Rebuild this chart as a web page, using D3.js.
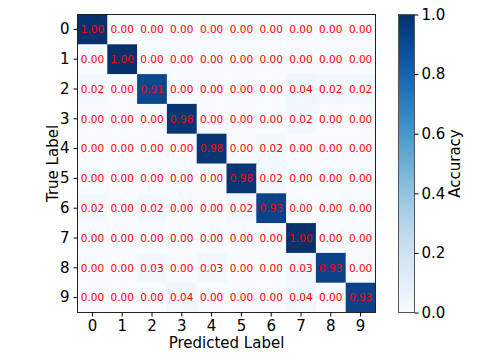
<!DOCTYPE html>
<html>
<head>
<meta charset="utf-8">
<script src="https://cdn.jsdelivr.net/npm/d3@7"></script>
<style>
  body { margin: 0; background: #fff; }
  svg { font-family: "DejaVu Sans", sans-serif; }
</style>
</head>
<body>
<div id="chart"></div>
<script>
// class labels
const labels = ["0", "1", "2", "3", "4", "5", "6", "7", "8", "9"];
// rows = true label, cols = predicted label
const matrix = [
  [1.00, 0.00, 0.00, 0.00, 0.00, 0.00, 0.00, 0.00, 0.00, 0.00],
  [0.00, 1.00, 0.00, 0.00, 0.00, 0.00, 0.00, 0.00, 0.00, 0.00],
  [0.02, 0.00, 0.91, 0.00, 0.00, 0.00, 0.00, 0.04, 0.02, 0.02],
  [0.00, 0.00, 0.00, 0.98, 0.00, 0.00, 0.00, 0.02, 0.00, 0.00],
  [0.00, 0.00, 0.00, 0.00, 0.98, 0.00, 0.02, 0.00, 0.00, 0.00],
  [0.00, 0.00, 0.00, 0.00, 0.00, 0.98, 0.02, 0.00, 0.00, 0.00],
  [0.02, 0.00, 0.02, 0.00, 0.00, 0.02, 0.93, 0.00, 0.00, 0.00],
  [0.00, 0.00, 0.00, 0.00, 0.00, 0.00, 0.00, 1.00, 0.00, 0.00],
  [0.00, 0.00, 0.03, 0.00, 0.03, 0.00, 0.00, 0.03, 0.93, 0.00],
  [0.00, 0.00, 0.00, 0.04, 0.00, 0.00, 0.00, 0.04, 0.00, 0.93]
];
const colorTicks = [0, 0.2, 0.4, 0.6, 0.8, 1.0];

const width = 480, height = 360;
const plot = { left: 77.5, top: 14.5, size: 298 };
const cbar = { left: 398.5, width: 16 };

const svg = d3.select("#chart").append("svg")
  .attr("width", width).attr("height", height);

const x = d3.scaleBand().domain(labels).range([plot.left, plot.left + plot.size]);
const y = d3.scaleBand().domain(labels).range([plot.top, plot.top + plot.size]);
const color = d3.scaleSequential(d3.interpolateBlues).domain([0, 1]);

// flatten into cells
const cells = [];
matrix.forEach((row, i) => row.forEach((v, j) => cells.push({ r: labels[i], c: labels[j], v })));

svg.append("g").selectAll("rect")
  .data(cells).enter().append("rect")
  .attr("x", d => x(d.c))
  .attr("y", d => y(d.r))
  .attr("width", x.bandwidth() + 0.5)
  .attr("height", y.bandwidth() + 0.5)
  .attr("fill", d => color(d.v));

svg.append("g").selectAll("text")
  .data(cells).enter().append("text")
  .attr("x", d => x(d.c) + x.bandwidth() / 2)
  .attr("y", d => y(d.r) + y.bandwidth() / 2)
  .attr("dy", "0.36em")
  .attr("text-anchor", "middle")
  .attr("font-size", 10.5)
  .attr("fill", "#ff0000")
  .text(d => d.v.toFixed(2));

// frame
svg.append("rect")
  .attr("x", plot.left).attr("y", plot.top)
  .attr("width", plot.size).attr("height", plot.size)
  .attr("fill", "none").attr("stroke", "#222").attr("stroke-width", 1);

// axes
const xAxisG = svg.append("g")
  .attr("transform", `translate(0,${plot.top + plot.size})`)
  .call(d3.axisBottom(x).tickSize(4).tickPadding(4));
const yAxisG = svg.append("g")
  .attr("transform", `translate(${plot.left},0)`)
  .call(d3.axisLeft(y).tickSize(4).tickPadding(4));
[xAxisG, yAxisG].forEach(g => {
  g.select(".domain").remove();
  g.selectAll("text").attr("font-size", 15).attr("fill", "#000").attr("font-family", "DejaVu Sans");
  g.selectAll("line").attr("stroke", "#000");
});

svg.append("text")
  .attr("x", plot.left + plot.size / 2).attr("y", 348)
  .attr("text-anchor", "middle").attr("font-size", 15)
  .text("Predicted Label");
svg.append("text")
  .attr("transform", `translate(58,${plot.top + plot.size / 2}) rotate(-90)`)
  .attr("text-anchor", "middle").attr("font-size", 15)
  .text("True Label");

// colorbar
const cy = d3.scaleLinear().domain([0, 1]).range([plot.top + plot.size, plot.top]);
const defs = svg.append("defs");
const grad = defs.append("linearGradient").attr("id", "cb")
  .attr("x1", 0).attr("y1", 1).attr("x2", 0).attr("y2", 0);
d3.range(0, 1.0001, 0.05).forEach(t => {
  grad.append("stop").attr("offset", t).attr("stop-color", color(t));
});
svg.append("rect")
  .attr("x", cbar.left).attr("y", plot.top)
  .attr("width", cbar.width).attr("height", plot.size)
  .attr("fill", "url(#cb)")
  .attr("stroke", "#555").attr("stroke-width", 1);
const cAxisG = svg.append("g")
  .attr("transform", `translate(${cbar.left + cbar.width},0)`)
  .call(d3.axisRight(cy).tickValues(colorTicks).tickFormat(d3.format(".1f")).tickSize(4).tickPadding(3));
cAxisG.select(".domain").remove();
cAxisG.selectAll("text").attr("font-size", 15).attr("fill", "#000").attr("font-family", "DejaVu Sans");
cAxisG.selectAll("line").attr("stroke", "#000");

svg.append("text")
  .attr("transform", `translate(460,${plot.top + plot.size / 2}) rotate(-90)`)
  .attr("text-anchor", "middle").attr("font-size", 15)
  .text("Accuracy");
</script>
</body>
</html>
